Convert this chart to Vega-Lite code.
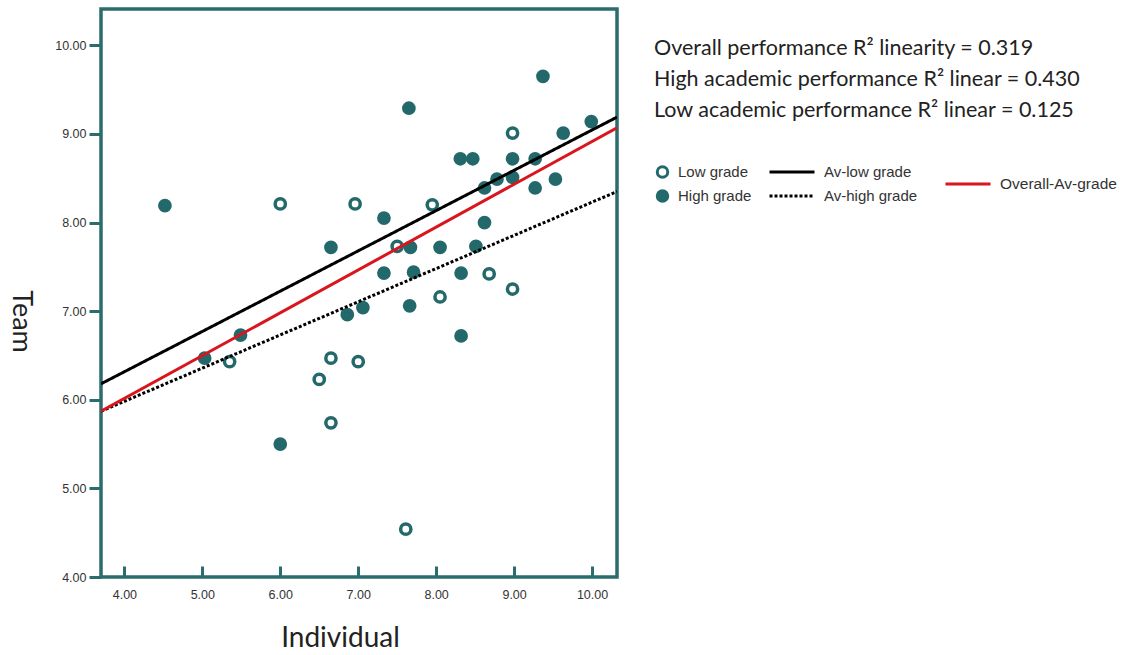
{
  "$schema": "https://vega.github.io/schema/vega-lite/v6.json",
  "width": 516,
  "height": 568,
  "autosize": "none",
  "padding": {"left": 101, "top": 9, "right": 504, "bottom": 78},
  "background": "white",
  "config": {
    "view": {"stroke": "#2b6d6d", "strokeWidth": 3.5},
    "axis": {"grid": false, "domain": false}
  },
  "title": {
    "text": ["Overall performance R² linearity = 0.319", "High academic performance R² linear = 0.430", "Low academic performance R² linear = 0.125"],
    "anchor": "start",
    "frame": "group",
    "orient": "top",
    "font": "Lato",
    "fontSize": 21.5,
    "fontWeight": "normal",
    "color": "#222222",
    "lineHeight": 31,
    "baseline": "top",
    "dx": 553,
    "dy": 116.5
  },
  "datasets": {
    "pts": [
      {"Individual": 5.35, "Team": 6.43, "grade": "Low grade"},
      {"Individual": 6.00, "Team": 8.21, "grade": "Low grade"},
      {"Individual": 6.50, "Team": 6.23, "grade": "Low grade"},
      {"Individual": 6.65, "Team": 6.47, "grade": "Low grade"},
      {"Individual": 6.65, "Team": 5.74, "grade": "Low grade"},
      {"Individual": 7.00, "Team": 6.43, "grade": "Low grade"},
      {"Individual": 6.96, "Team": 8.21, "grade": "Low grade"},
      {"Individual": 7.50, "Team": 7.73, "grade": "Low grade"},
      {"Individual": 7.61, "Team": 4.54, "grade": "Low grade"},
      {"Individual": 7.95, "Team": 8.20, "grade": "Low grade"},
      {"Individual": 8.05, "Team": 7.16, "grade": "Low grade"},
      {"Individual": 8.68, "Team": 7.42, "grade": "Low grade"},
      {"Individual": 8.98, "Team": 7.25, "grade": "Low grade"},
      {"Individual": 8.98, "Team": 9.01, "grade": "Low grade"},
      {"Individual": 4.52, "Team": 8.19, "grade": "High grade"},
      {"Individual": 5.03, "Team": 6.47, "grade": "High grade"},
      {"Individual": 5.49, "Team": 6.73, "grade": "High grade"},
      {"Individual": 6.00, "Team": 5.50, "grade": "High grade"},
      {"Individual": 6.65, "Team": 7.72, "grade": "High grade"},
      {"Individual": 6.86, "Team": 6.96, "grade": "High grade"},
      {"Individual": 7.06, "Team": 7.04, "grade": "High grade"},
      {"Individual": 7.33, "Team": 8.05, "grade": "High grade"},
      {"Individual": 7.33, "Team": 7.43, "grade": "High grade"},
      {"Individual": 7.65, "Team": 9.29, "grade": "High grade"},
      {"Individual": 7.67, "Team": 7.72, "grade": "High grade"},
      {"Individual": 7.71, "Team": 7.44, "grade": "High grade"},
      {"Individual": 7.66, "Team": 7.06, "grade": "High grade"},
      {"Individual": 8.05, "Team": 7.72, "grade": "High grade"},
      {"Individual": 8.31, "Team": 8.72, "grade": "High grade"},
      {"Individual": 8.47, "Team": 8.72, "grade": "High grade"},
      {"Individual": 8.32, "Team": 7.43, "grade": "High grade"},
      {"Individual": 8.32, "Team": 6.72, "grade": "High grade"},
      {"Individual": 8.51, "Team": 7.73, "grade": "High grade"},
      {"Individual": 8.62, "Team": 8.39, "grade": "High grade"},
      {"Individual": 8.62, "Team": 8.00, "grade": "High grade"},
      {"Individual": 8.78, "Team": 8.49, "grade": "High grade"},
      {"Individual": 8.98, "Team": 8.72, "grade": "High grade"},
      {"Individual": 8.98, "Team": 8.51, "grade": "High grade"},
      {"Individual": 9.27, "Team": 8.72, "grade": "High grade"},
      {"Individual": 9.27, "Team": 8.39, "grade": "High grade"},
      {"Individual": 9.37, "Team": 9.65, "grade": "High grade"},
      {"Individual": 9.53, "Team": 8.49, "grade": "High grade"},
      {"Individual": 9.63, "Team": 9.01, "grade": "High grade"},
      {"Individual": 9.99, "Team": 9.14, "grade": "High grade"}
    ],
    "fits": [
      {"Individual": 3.70, "Team": 6.18, "series": "Av-low grade"},
      {"Individual": 10.32, "Team": 9.19, "series": "Av-low grade"},
      {"Individual": 3.70, "Team": 5.87, "series": "Av-high grade"},
      {"Individual": 10.32, "Team": 8.35, "series": "Av-high grade"}
    ],
    "overall": [
      {"Individual": 3.70, "Team": 5.87, "series": "Overall-Av-grade"},
      {"Individual": 10.32, "Team": 9.07, "series": "Overall-Av-grade"}
    ]
  },
  "encoding": {
    "x": {
      "field": "Individual",
      "type": "quantitative",
      "scale": {"domain": [3.7, 10.32], "nice": false, "zero": false},
      "axis": {
        "values": [4, 5, 6, 7, 8, 9, 10],
        "format": ".2f",
        "tickSize": -11,
        "tickWidth": 3,
        "tickColor": "#2b6d6d",
        "labelPadding": 22,
        "labelFlush": false,
        "labelFont": "Liberation Sans",
        "labelFontSize": 12.5,
        "labelColor": "#333333",
        "title": "Individual",
        "titleFont": "Lato",
        "titleFontSize": 28,
        "titleFontWeight": "normal",
        "titleColor": "#222222",
        "titleX": 239,
        "titleY": 61,
        "titleBaseline": "middle",
        "titleAnchor": "start",
        "titleAlign": "center"
      }
    },
    "y": {
      "field": "Team",
      "type": "quantitative",
      "scale": {"domain": [4, 10.41], "nice": false, "zero": false},
      "axis": {
        "values": [4, 5, 6, 7, 8, 9, 10],
        "format": ".2f",
        "tickSize": 12,
        "tickWidth": 3,
        "tickColor": "#2b6d6d",
        "labelPadding": 3,
        "labelFlush": false,
        "labelFont": "Liberation Sans",
        "labelFontSize": 12.5,
        "labelColor": "#333333",
        "title": "Team",
        "titleFont": "Lato",
        "titleFontSize": 27,
        "titleFontWeight": "normal",
        "titleColor": "#222222",
        "titleAngle": 90,
        "titleX": -81,
        "titleY": 312,
        "titleBaseline": "middle",
        "titleAlign": "center"
      }
    }
  },
  "layer": [
    {
      "data": {"name": "pts"},
      "mark": {"type": "point", "shape": "circle", "size": 105, "stroke": "#23696b", "strokeWidth": 3.5, "opacity": 1, "fillOpacity": 1},
      "encoding": {
        "fill": {
          "field": "grade",
          "type": "nominal",
          "scale": {"domain": ["Low grade", "High grade"], "range": ["#ffffff", "#23696b"]},
          "legend": {
            "title": null,
            "orient": "none",
            "legendX": 554,
            "legendY": 151,
            "padding": 0,
            "symbolType": "circle",
            "symbolSize": 110,
            "symbolStrokeColor": "#23696b",
            "symbolStrokeWidth": 3,
            "labelFont": "Liberation Sans",
            "labelFontSize": 15,
            "labelColor": "#333333",
            "labelOffset": 8,
            "clipHeight": 24,
            "rowPadding": 0
          }
        }
      }
    },
    {
      "data": {"name": "fits"},
      "mark": {"type": "line", "color": "#000000", "strokeWidth": 3, "clip": true},
      "encoding": {
        "detail": {"field": "series"},
        "strokeDash": {
          "field": "series",
          "type": "nominal",
          "scale": {"domain": ["Av-low grade", "Av-high grade"], "range": [[1, 0], [3, 2]]},
          "legend": {
            "title": null,
            "orient": "none",
            "legendX": 667,
            "legendY": 151,
            "padding": 0,
            "symbolType": "stroke",
            "symbolSize": 2025,
            "symbolStrokeColor": "#000000",
            "symbolStrokeWidth": 3,
            "labelFont": "Liberation Sans",
            "labelFontSize": 15,
            "labelColor": "#333333",
            "labelOffset": 8,
            "clipHeight": 24,
            "rowPadding": 0
          }
        }
      }
    },
    {
      "data": {"name": "overall"},
      "mark": {"type": "line", "strokeWidth": 3, "clip": true},
      "encoding": {
        "color": {
          "field": "series",
          "type": "nominal",
          "scale": {"domain": ["Overall-Av-grade"], "range": ["#d9151d"]},
          "legend": {
            "title": null,
            "orient": "none",
            "legendX": 843,
            "legendY": 163,
            "padding": 0,
            "symbolType": "stroke",
            "symbolSize": 2025,
            "symbolStrokeWidth": 3,
            "labelFont": "Liberation Sans",
            "labelFontSize": 15.5,
            "labelColor": "#333333",
            "labelOffset": 8,
            "clipHeight": 24
          }
        }
      }
    }
  ]
}
